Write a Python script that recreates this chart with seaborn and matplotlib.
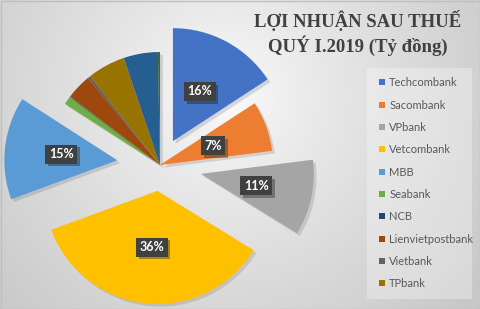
import numpy as np
import matplotlib
matplotlib.use("Agg")
import matplotlib.pyplot as plt
import seaborn as sns
from matplotlib import patheffects as pe
from matplotlib.lines import Line2D

# ---- data ----
banks = ["Techcombank", "Sacombank", "VPbank", "Vetcombank", "MBB", "Seabank",
         "NCB", "Lienvietpostbank", "Vietbank", "TPbank", "Khác 1", "Khác 2"]
shares = [15.8, 7.2, 10.8, 35.6, 14.7, 1.2, 0.1, 3.6, 0.4, 5.4, 4.9, 0.3]
legend_count = 10
title_text = "LỢI NHUẬN SAU THUẾ\nQUÝ I.2019 (Tỷ đồng)"

# ---- style ----
hex_colors = ["#4472C4", "#ED7D31", "#A5A5A5", "#FFC000", "#5B9BD5", "#70AD47",
              "#264478", "#9E480E", "#636363", "#997300", "#255E91", "#43682B"]
R = 113
explode_frac = [0.24, 0.0, 0.37, 0.23, 0.38, 0, 0, 0, 0, 0, 0, 0]

sns.set_theme(style="white")
plt.rcParams["font.family"] = ["Lato", "DejaVu Sans"]
palette = sns.color_palette(hex_colors)

W, H = 481, 309
fig = plt.figure(figsize=(W / 100, H / 100), dpi=100)
ax = fig.add_axes([0, 0, 1, 1])

# radial gradient background
yy, xx = np.mgrid[0:H, 0:W]
d = np.sqrt((xx - 225.0) ** 2 + (yy - 95.0) ** 2) / 300.0
g = 0.985 - 0.19 * np.clip(d, 0, 1.1) ** 0.85
bg = np.dstack([g, g, g])
ax.imshow(bg, extent=(0, W, 0, H), origin="upper", zorder=0, aspect="auto")

def fmt(p):
    return f"{p:.0f}%" if p >= 6 else ""

wedges, texts, autotexts = ax.pie(
    shares, colors=palette, explode=[e * R for e in explode_frac],
    startangle=90, counterclock=False,
    center=(160, H - 165), radius=R, autopct=fmt, pctdistance=0.5,
    wedgeprops=dict(linewidth=0, zorder=2),
    textprops=dict(color="white", fontweight="bold", fontsize=9),
)
for w in wedges:
    w.set_path_effects([pe.SimplePatchShadow(offset=(2, -2), alpha=0.15), pe.Normal()])
for t in autotexts:
    if t.get_text() == "":
        t.set_visible(False)
        continue
    t.set_bbox(dict(boxstyle="square,pad=0.28", fc="#404040", ec="none"))
    t.get_bbox_patch().set_path_effects(
        [pe.SimplePatchShadow(offset=(2, -2), alpha=0.35), pe.Normal()])
    t.set_zorder(5)

ax.set_xlim(0, W)
ax.set_ylim(0, H)
ax.set_aspect("auto")
ax.axis("off")

# title
fig.text(358 / W, 1 - 10 / H, title_text, ha="center", va="top",
         multialignment="center", fontsize=13.5, fontweight="bold",
         family=["Liberation Serif", "DejaVu Serif"], color="#404040",
         linespacing=1.25)

# legend
handles = [Line2D([], [], marker="s", linestyle="none", markersize=4.6,
                  markerfacecolor=palette[i], markeredgewidth=0)
           for i in range(legend_count)]
leg = ax.legend(handles, banks[:legend_count], loc="upper left",
                bbox_to_anchor=(367 / W, 1 - 71 / H, 105 / W, 0.01),
                bbox_transform=fig.transFigure, mode="expand", borderaxespad=0,
                borderpad=0.85, handlelength=1.0, handletextpad=0.15,
                labelspacing=1.02, fontsize=8, labelcolor="#595959",
                frameon=True, fancybox=False)
fr = leg.get_frame()
fr.set_facecolor("white")
fr.set_alpha(0.3)
fr.set_edgecolor("none")
leg.set_zorder(6)

# outer border
ax.add_patch(plt.Rectangle((0.5, 0.5), W - 1, H - 1, fill=False, ec="#BFBFBF",
                           lw=1, zorder=7))

fig.savefig("out.png", dpi=100)
